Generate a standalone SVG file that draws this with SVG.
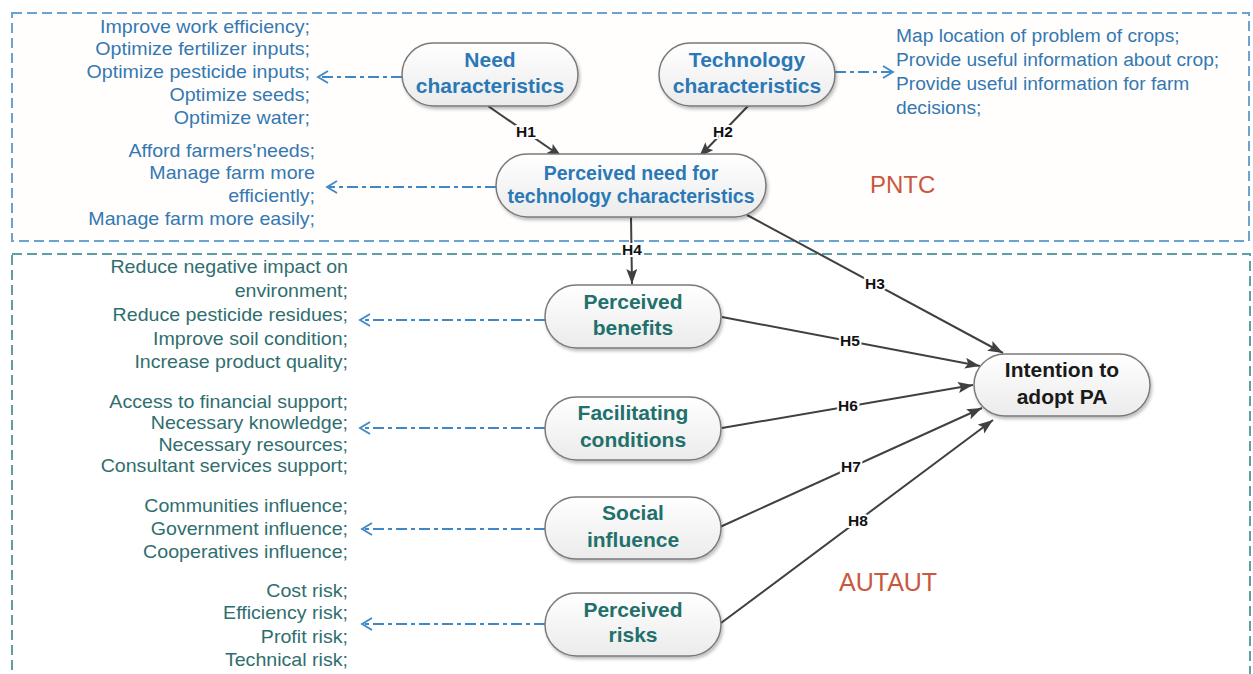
<svg xmlns="http://www.w3.org/2000/svg" width="1253" height="674" viewBox="0 0 1253 674">
<style>
.frame1{fill:#fffefc;stroke:#6aa3d3;stroke-width:2;stroke-dasharray:10 5}
.frame2{fill:#ffffff;stroke:#5f9ea6;stroke-width:2;stroke-dasharray:10 5}
.node{fill:url(#ng);stroke:#7a7a7a;stroke-width:1.5;filter:url(#sh)}
.nt{font-family:"Liberation Sans",Arial,sans-serif;font-weight:bold;font-size:21px;text-anchor:middle}
.nts{font-size:19.5px}
.blue{fill:#2b78b6}
.teal{fill:#22706c}
.blk{fill:#1a1a1a}
.lt{font-family:"Liberation Sans",Arial,sans-serif;font-size:18px;text-anchor:end}
.rt{font-family:"Liberation Sans",Arial,sans-serif;font-size:19.2px;fill:#3478b2}
.ltb{fill:#3478b2}
.ltt{fill:#2f6e6e}
.edge{stroke:#404040;stroke-width:2;fill:none;marker-end:url(#ah)}
.dash{stroke:#3f88c5;stroke-width:1.8;fill:none;stroke-dasharray:11 4 4 4}
.oh{stroke:#3f88c5;stroke-width:1.8;fill:none}
.hl{font-family:"Liberation Sans",Arial,sans-serif;font-weight:bold;font-size:15.5px;fill:#111;text-anchor:middle;stroke:#fff;stroke-width:4;paint-order:stroke}
.grp{font-family:"Liberation Sans",Arial,sans-serif;font-size:24px;fill:#c9583e}
.grp2{font-size:25px}
</style>
<defs>
<linearGradient id="ng" x1="0" y1="0" x2="0" y2="1">
<stop offset="0" stop-color="#ffffff"/>
<stop offset="1" stop-color="#ebebeb"/>
</linearGradient>
<filter id="sh" x="-10%" y="-20%" width="125%" height="150%">
<feDropShadow dx="1.5" dy="2.5" stdDeviation="1.5" flood-color="#000" flood-opacity="0.25"/>
</filter>
<marker id="ah" markerUnits="userSpaceOnUse" markerWidth="16" markerHeight="12" refX="15" refY="5.5" orient="auto">
<path d="M0,0 L15,5.5 L0,11 L3,5.5 z" fill="#404040"/>
</marker>
</defs>
<rect width="1253" height="674" fill="#ffffff"/>
<g id="frames">
<rect class="frame1" x="12" y="13" width="1237" height="228"/>
<rect class="frame2" x="12" y="254" width="1238" height="440"/>
<text class="grp" x="870" y="193">PNTC</text>
<text class="grp grp2" x="839" y="591">AUTAUT</text>
</g>
<g id="connectors">
<line class="edge" x1="488" y1="106" x2="562" y2="157"/>
<line class="edge" x1="748" y1="106" x2="699" y2="157"/>
<line class="edge" x1="631" y1="217" x2="632" y2="284"/>
<line class="edge" x1="747" y1="215" x2="1003" y2="353"/>
<line class="edge" x1="722" y1="317" x2="980" y2="366"/>
<line class="edge" x1="722" y1="428" x2="973" y2="385"/>
<line class="edge" x1="720" y1="527" x2="982" y2="408"/>
<line class="edge" x1="721" y1="623" x2="993" y2="420"/>
<path class="dash" d="M402,77 L320,77"/>
<path class="oh" d="M328,71 L318,77 L328,83"/>
<path class="dash" d="M835,72 L891,72"/>
<path class="oh" d="M883,66 L893,72 L883,78"/>
<path class="dash" d="M496,187 L329,187"/>
<path class="oh" d="M337,181 L327,187 L337,193"/>
<path class="dash" d="M545,320 L362,320"/>
<path class="oh" d="M370,314 L360,320 L370,326"/>
<path class="dash" d="M545,428 L362,428"/>
<path class="oh" d="M370,422 L360,428 L370,434"/>
<path class="dash" d="M545,529 L364,529"/>
<path class="oh" d="M372,523 L362,529 L372,535"/>
<path class="dash" d="M545,624 L364,624"/>
<path class="oh" d="M372,618 L362,624 L372,630"/>
<text class="hl" x="526" y="137">H1</text>
<text class="hl" x="723" y="137">H2</text>
<text class="hl" x="632" y="255">H4</text>
<text class="hl" x="875" y="289">H3</text>
<text class="hl" x="850" y="346">H5</text>
<text class="hl" x="848" y="411">H6</text>
<text class="hl" x="851" y="472">H7</text>
<text class="hl" x="858" y="526">H8</text>
</g>
<g id="need">
<rect class="node" x="402" y="43" width="176" height="63" rx="31.5"/>
<text class="nt blue" x="490" y="67">Need</text>
<text class="nt blue" x="490" y="93">characteristics</text>
</g>
<g id="technology">
<rect class="node" x="659" y="43" width="176" height="63" rx="31.5"/>
<text class="nt blue" x="747" y="67">Technology</text>
<text class="nt blue" x="747" y="93">characteristics</text>
</g>
<g id="pntc">
<rect class="node" x="496" y="154" width="270" height="63" rx="31.5"/>
<text class="nt nts blue" x="631" y="180">Perceived need for</text>
<text class="nt nts blue" x="631" y="203">technology characteristics</text>
</g>
<g id="benefits">
<rect class="node" x="545" y="285" width="176" height="63" rx="31.5"/>
<text class="nt teal" x="633" y="309">Perceived</text>
<text class="nt teal" x="633" y="335">benefits</text>
</g>
<g id="facilitating">
<rect class="node" x="545" y="397" width="176" height="63" rx="31.5"/>
<text class="nt teal" x="633" y="420">Facilitating</text>
<text class="nt teal" x="633" y="447">conditions</text>
</g>
<g id="social">
<rect class="node" x="545" y="497" width="176" height="62" rx="31"/>
<text class="nt teal" x="633" y="520">Social</text>
<text class="nt teal" x="633" y="547">influence</text>
</g>
<g id="risks">
<rect class="node" x="545" y="593" width="176" height="63" rx="31.5"/>
<text class="nt teal" x="633" y="617">Perceived</text>
<text class="nt teal" x="633" y="642">risks</text>
</g>
<g id="intention">
<rect class="node" x="974" y="354" width="176" height="62" rx="31"/>
<text class="nt blk" x="1062" y="377">Intention to</text>
<text class="nt blk" x="1062" y="404">adopt PA</text>
</g>
<g id="need-items" transform="translate(310,0) scale(1.09,1)">
<text class="lt ltb" x="0" y="33">Improve work efficiency;</text>
<text class="lt ltb" x="0" y="55.5">Optimize fertilizer inputs;</text>
<text class="lt ltb" x="0" y="78.5">Optimize pesticide inputs;</text>
<text class="lt ltb" x="0" y="101.5">Optimize seeds;</text>
<text class="lt ltb" x="0" y="124">Optimize water;</text>
</g>
<g id="pntc-items" transform="translate(315,0) scale(1.09,1)">
<text class="lt ltb" x="0" y="157">Afford farmers'needs;</text>
<text class="lt ltb" x="0" y="179.5">Manage farm more</text>
<text class="lt ltb" x="0" y="202">efficiently;</text>
<text class="lt ltb" x="0" y="225">Manage farm more easily;</text>
</g>
<g id="tech-items">
<text class="rt" x="896" y="42">Map location of problem of crops;</text>
<text class="rt" x="896" y="66">Provide useful information about crop;</text>
<text class="rt" x="896" y="90">Provide useful information for farm</text>
<text class="rt" x="896" y="114">decisions;</text>
</g>
<g id="benefit-items" transform="translate(348,0) scale(1.09,1)">
<text class="lt ltt" x="0" y="273">Reduce negative impact on</text>
<text class="lt ltt" x="0" y="297">environment;</text>
<text class="lt ltt" x="0" y="321">Reduce pesticide residues;</text>
<text class="lt ltt" x="0" y="345">Improve soil condition;</text>
<text class="lt ltt" x="0" y="368">Increase product quality;</text>
</g>
<g id="facilitating-items" transform="translate(348,0) scale(1.09,1)">
<text class="lt ltt" x="0" y="408">Access to financial support;</text>
<text class="lt ltt" x="0" y="429.5">Necessary knowledge;</text>
<text class="lt ltt" x="0" y="451">Necessary resources;</text>
<text class="lt ltt" x="0" y="472.5">Consultant services support;</text>
</g>
<g id="social-items" transform="translate(348,0) scale(1.09,1)">
<text class="lt ltt" x="0" y="512">Communities influence;</text>
<text class="lt ltt" x="0" y="535">Government influence;</text>
<text class="lt ltt" x="0" y="558">Cooperatives influence;</text>
</g>
<g id="risk-items" transform="translate(348,0) scale(1.09,1)">
<text class="lt ltt" x="0" y="597">Cost risk;</text>
<text class="lt ltt" x="0" y="619">Efficiency risk;</text>
<text class="lt ltt" x="0" y="643">Profit risk;</text>
<text class="lt ltt" x="0" y="666">Technical risk;</text>
</g>
</svg>
